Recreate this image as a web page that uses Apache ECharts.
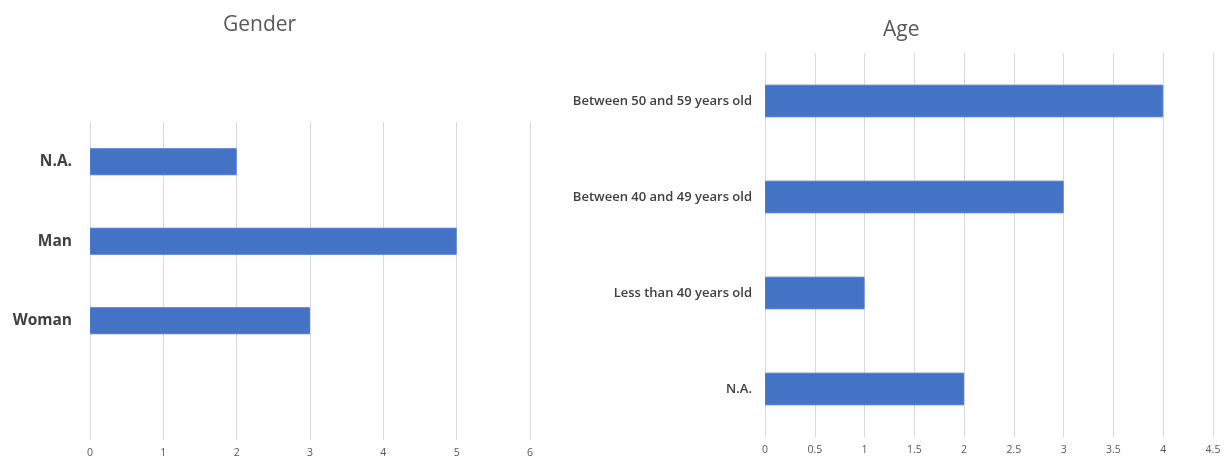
<!DOCTYPE html>
<html>
<head>
<meta charset="utf-8">
<script src="https://cdn.jsdelivr.net/npm/echarts@6/dist/echarts.min.js"></script>
<style>
html,body{margin:0;padding:0;background:#fff;}
#c{width:1226px;height:461px;}
</style>
</head>
<body>
<div id="c"></div>
<script>
var genderCategories = ['', 'Woman', 'Man', 'N.A.'];
var genderValues = ['-', 3, 5, 2];
var genderTicks = {min: 0, max: 6, interval: 1};

var ageCategories = ['N.A.', 'Less than 40 years old', 'Between 40 and 49 years old', 'Between 50 and 59 years old'];
var ageValues = [2, 1, 3, 4];
var ageTicks = {min: 0, max: 4.5, interval: 0.5};

var FONT = '"Open Sans", "Noto Sans", sans-serif';
var BAR = '#4472C4';
var GRID = '#d9d9d9';

function xAxisFor(idx, t) {
  return {
    type: 'value', gridIndex: idx, min: t.min, max: t.max, interval: t.interval,
    axisLine: {show: false}, axisTick: {show: false},
    splitLine: {show: true, lineStyle: {color: GRID, width: 1}},
    axisLabel: {color: '#595959', fontSize: 10.5, fontFamily: FONT, margin: 8}
  };
}

var chart = echarts.init(document.getElementById('c'));
chart.setOption({
  animation: false,
  title: [
    {text: 'Gender', left: 218, top: 10,
     textStyle: {fontFamily: FONT, fontSize: 21, fontWeight: 'normal', color: '#595959'}},
    {text: 'Age', left: 878, top: 15,
     textStyle: {fontFamily: FONT, fontSize: 21, fontWeight: 'normal', color: '#595959'}}
  ],
  grid: [
    {left: 90, top: 122, width: 440, height: 318},
    {left: 765, top: 53, width: 448, height: 384}
  ],
  xAxis: [xAxisFor(0, genderTicks), xAxisFor(1, ageTicks)],
  yAxis: [
    {type: 'category', gridIndex: 0, data: genderCategories,
     axisLine: {show: false}, axisTick: {show: false}, splitLine: {show: false},
     axisLabel: {color: '#404040', fontSize: 15.5, fontWeight: 'bold', fontFamily: FONT, margin: 18}},
    {type: 'category', gridIndex: 1, data: ageCategories,
     axisLine: {show: false}, axisTick: {show: false}, splitLine: {show: false},
     axisLabel: {color: '#404040', fontSize: 13, fontWeight: 600, fontFamily: FONT, margin: 13}}
  ],
  series: [
    {type: 'bar', xAxisIndex: 0, yAxisIndex: 0, data: genderValues, barWidth: '34%',
     itemStyle: {color: BAR, borderColor: '#4a7bd6', borderWidth: 1}},
    {type: 'bar', xAxisIndex: 1, yAxisIndex: 1, data: ageValues, barWidth: '34%',
     itemStyle: {color: BAR, borderColor: '#4a7bd6', borderWidth: 1}}
  ]
});
</script>
</body>
</html>
